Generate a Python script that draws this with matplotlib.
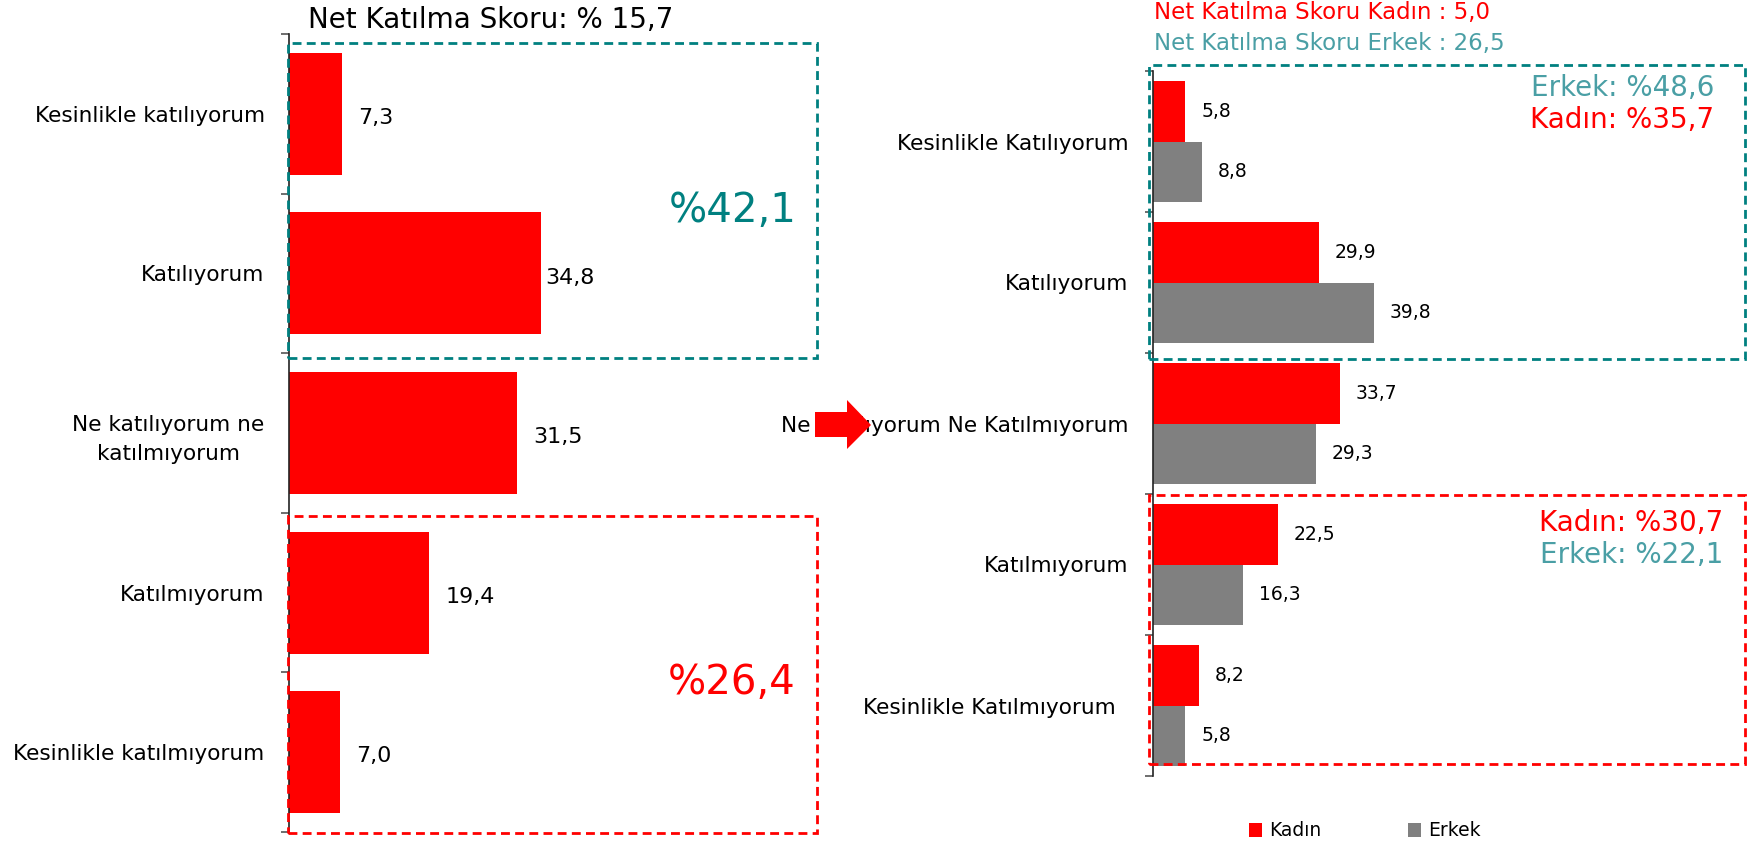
import matplotlib
matplotlib.use('Agg')
import matplotlib.pyplot as plt
import matplotlib.transforms as mtransforms
from matplotlib.patches import Rectangle, Polygon, Patch
import numpy as np

# --- Data ---
left_categories = ['Kesinlikle katılıyorum', 'Katılıyorum', 'Ne katılıyorum ne\nkatılmıyorum',
                   'Katılmıyorum', 'Kesinlikle katılmıyorum']
left_values = [7.3, 34.8, 31.5, 19.4, 7.0]

right_categories = ['Kesinlikle Katılıyorum', 'Katılıyorum', 'Ne Katılıyorum Ne Katılmıyorum',
                    'Katılmıyorum', 'Kesinlikle Katılmıyorum']
kadin_values = [5.8, 29.9, 33.7, 22.5, 8.2]
erkek_values = [8.8, 39.8, 29.3, 16.3, 5.8]

# --- Style ---
W, H = 1754, 841
RED = '#FF0000'
GREY = '#808080'
TEAL = '#008080'
LIGHT_TEAL = '#4A9FA5'
plt.rcParams['font.family'] = ['DejaVu Sans']


def fx(px):
    return px / W


def fy(py):
    return 1 - py / H


def fmt(v):
    return f'{v:.1f}'.replace('.', ',')


fig = plt.figure(figsize=(W / 100, H / 100), dpi=100)

# --- Left chart ---
ax1 = fig.add_axes([fx(289), fy(832), fx(817 - 289), (832 - 34) / H])
y = np.arange(len(left_categories))
ax1.barh(y, left_values, height=0.765, color=RED, zorder=2)
ax1.set_xlim(0, (817 - 289) / 7.24)
ax1.set_ylim(len(left_categories) - 0.5, -0.5)
label_pads = [11.5, 3, 11.5, 11.5, 11.5]
for i, v in enumerate(left_values):
    ax1.annotate(fmt(v), (v, i), xytext=(label_pads[i], -3), textcoords='offset points',
                 va='center', ha='left', fontsize=16)

# --- Right chart ---
ax2 = fig.add_axes([fx(1153), fy(776), fx(1745 - 1153), (776 - 71) / H])
y2 = np.arange(len(right_categories))
bh = 0.4326
b1 = ax2.barh(y2 - bh / 2, kadin_values, height=bh, color=RED, label='Kadın', zorder=2)
b2 = ax2.barh(y2 + bh / 2, erkek_values, height=bh, color=GREY, label='Erkek', zorder=2)
ax2.set_xlim(0, (1745 - 1153) / 5.55)
ax2.set_ylim(len(right_categories) - 0.5, -0.5)
for i, v in enumerate(kadin_values):
    ax2.annotate(fmt(v), (v, i - bh / 2), xytext=(11.5, 0), textcoords='offset points',
                 va='center', ha='left', fontsize=13.5)
for i, v in enumerate(erkek_values):
    ax2.annotate(fmt(v), (v, i + bh / 2), xytext=(11.5, 0), textcoords='offset points',
                 va='center', ha='left', fontsize=13.5)

for ax, cats in [(ax1, left_categories), (ax2, right_categories)]:
    for s in ['top', 'right', 'bottom']:
        ax.spines[s].set_visible(False)
    ax.spines['left'].set_color('#222222')
    ax.spines['left'].set_linewidth(1.2)
    ax.set_xticks([])
    ax.set_yticks(np.arange(len(cats)))
    ax.set_yticklabels(cats, fontsize=15.6, multialignment='center', linespacing=1.55)
    ax.tick_params(axis='y', which='major', length=0, pad=17.5)
    ax.set_yticks(np.arange(len(cats) + 1) - 0.5, minor=True)
    ax.tick_params(axis='y', which='minor', length=6, width=1.2, color='#555555')
    ax.patch.set_alpha(0)

# last right label sits a bit further left
lab = ax2.get_yticklabels()[-1]
lab.set_transform(lab.get_transform() + mtransforms.ScaledTranslation(-0.13, 0, fig.dpi_scale_trans))

# --- Dashed boxes ---
def dashed_box(x0, y0, x1, y1, color):
    r = Rectangle((fx(x0), fy(y1)), fx(x1 - x0), (y1 - y0) / H, transform=fig.transFigure,
                  fill=False, edgecolor=color, linewidth=2.0, linestyle=(0, (3.2, 1.9)), zorder=5)
    fig.patches.append(r)


dashed_box(288, 43, 817, 358, TEAL)
dashed_box(288, 516, 817, 833, RED)
dashed_box(1149, 65, 1745, 359, TEAL)
dashed_box(1149, 495, 1745, 764, RED)

# --- Texts ---
fig.text(fx(308), fy(28), 'Net Katılma Skoru: % 15,7', fontsize=20, va='baseline', ha='left')
fig.text(fx(797), fy(211), '%42,1', fontsize=29, color=TEAL, va='center', ha='right')
fig.text(fx(795), fy(683), '%26,4', fontsize=29, color=RED, va='center', ha='right')

fig.text(fx(1154), fy(19), 'Net Katılma Skoru Kadın : 5,0', fontsize=16.5, color=RED, va='baseline')
fig.text(fx(1154), fy(50), 'Net Katılma Skoru Erkek : 26,5', fontsize=16.5, color=LIGHT_TEAL, va='baseline')

fig.text(fx(1714), fy(88), 'Erkek: %48,6', fontsize=20, color=LIGHT_TEAL, va='center', ha='right')
fig.text(fx(1714), fy(120), 'Kadın: %35,7', fontsize=20, color=RED, va='center', ha='right')
fig.text(fx(1723), fy(523), 'Kadın: %30,7', fontsize=20, color=RED, va='center', ha='right')
fig.text(fx(1723), fy(555), 'Erkek: %22,1', fontsize=20, color=LIGHT_TEAL, va='center', ha='right')

# --- Red arrow (covers part of the middle label, as in the original) ---
arrow_px = [(815, 412), (847, 412), (847, 400), (871, 425), (847, 449), (847, 437), (815, 437)]
arrow = Polygon([(fx(px), fy(py)) for px, py in arrow_px], closed=True, transform=fig.transFigure,
                facecolor=RED, edgecolor='none', zorder=10)
fig.patches.append(arrow)

# --- Legend ---
handles = [Patch(facecolor=RED, label='Kadın'), Patch(facecolor=GREY, label='Erkek')]
fig.legend(handles=handles, loc='center', bbox_to_anchor=(fx(1365), fy(831)), ncol=2,
           frameon=False, fontsize=13.5, handlelength=0.7, handleheight=0.7,
           handletextpad=0.4, columnspacing=4.6, borderpad=0, borderaxespad=0)

fig.savefig('out.png', dpi=100)
